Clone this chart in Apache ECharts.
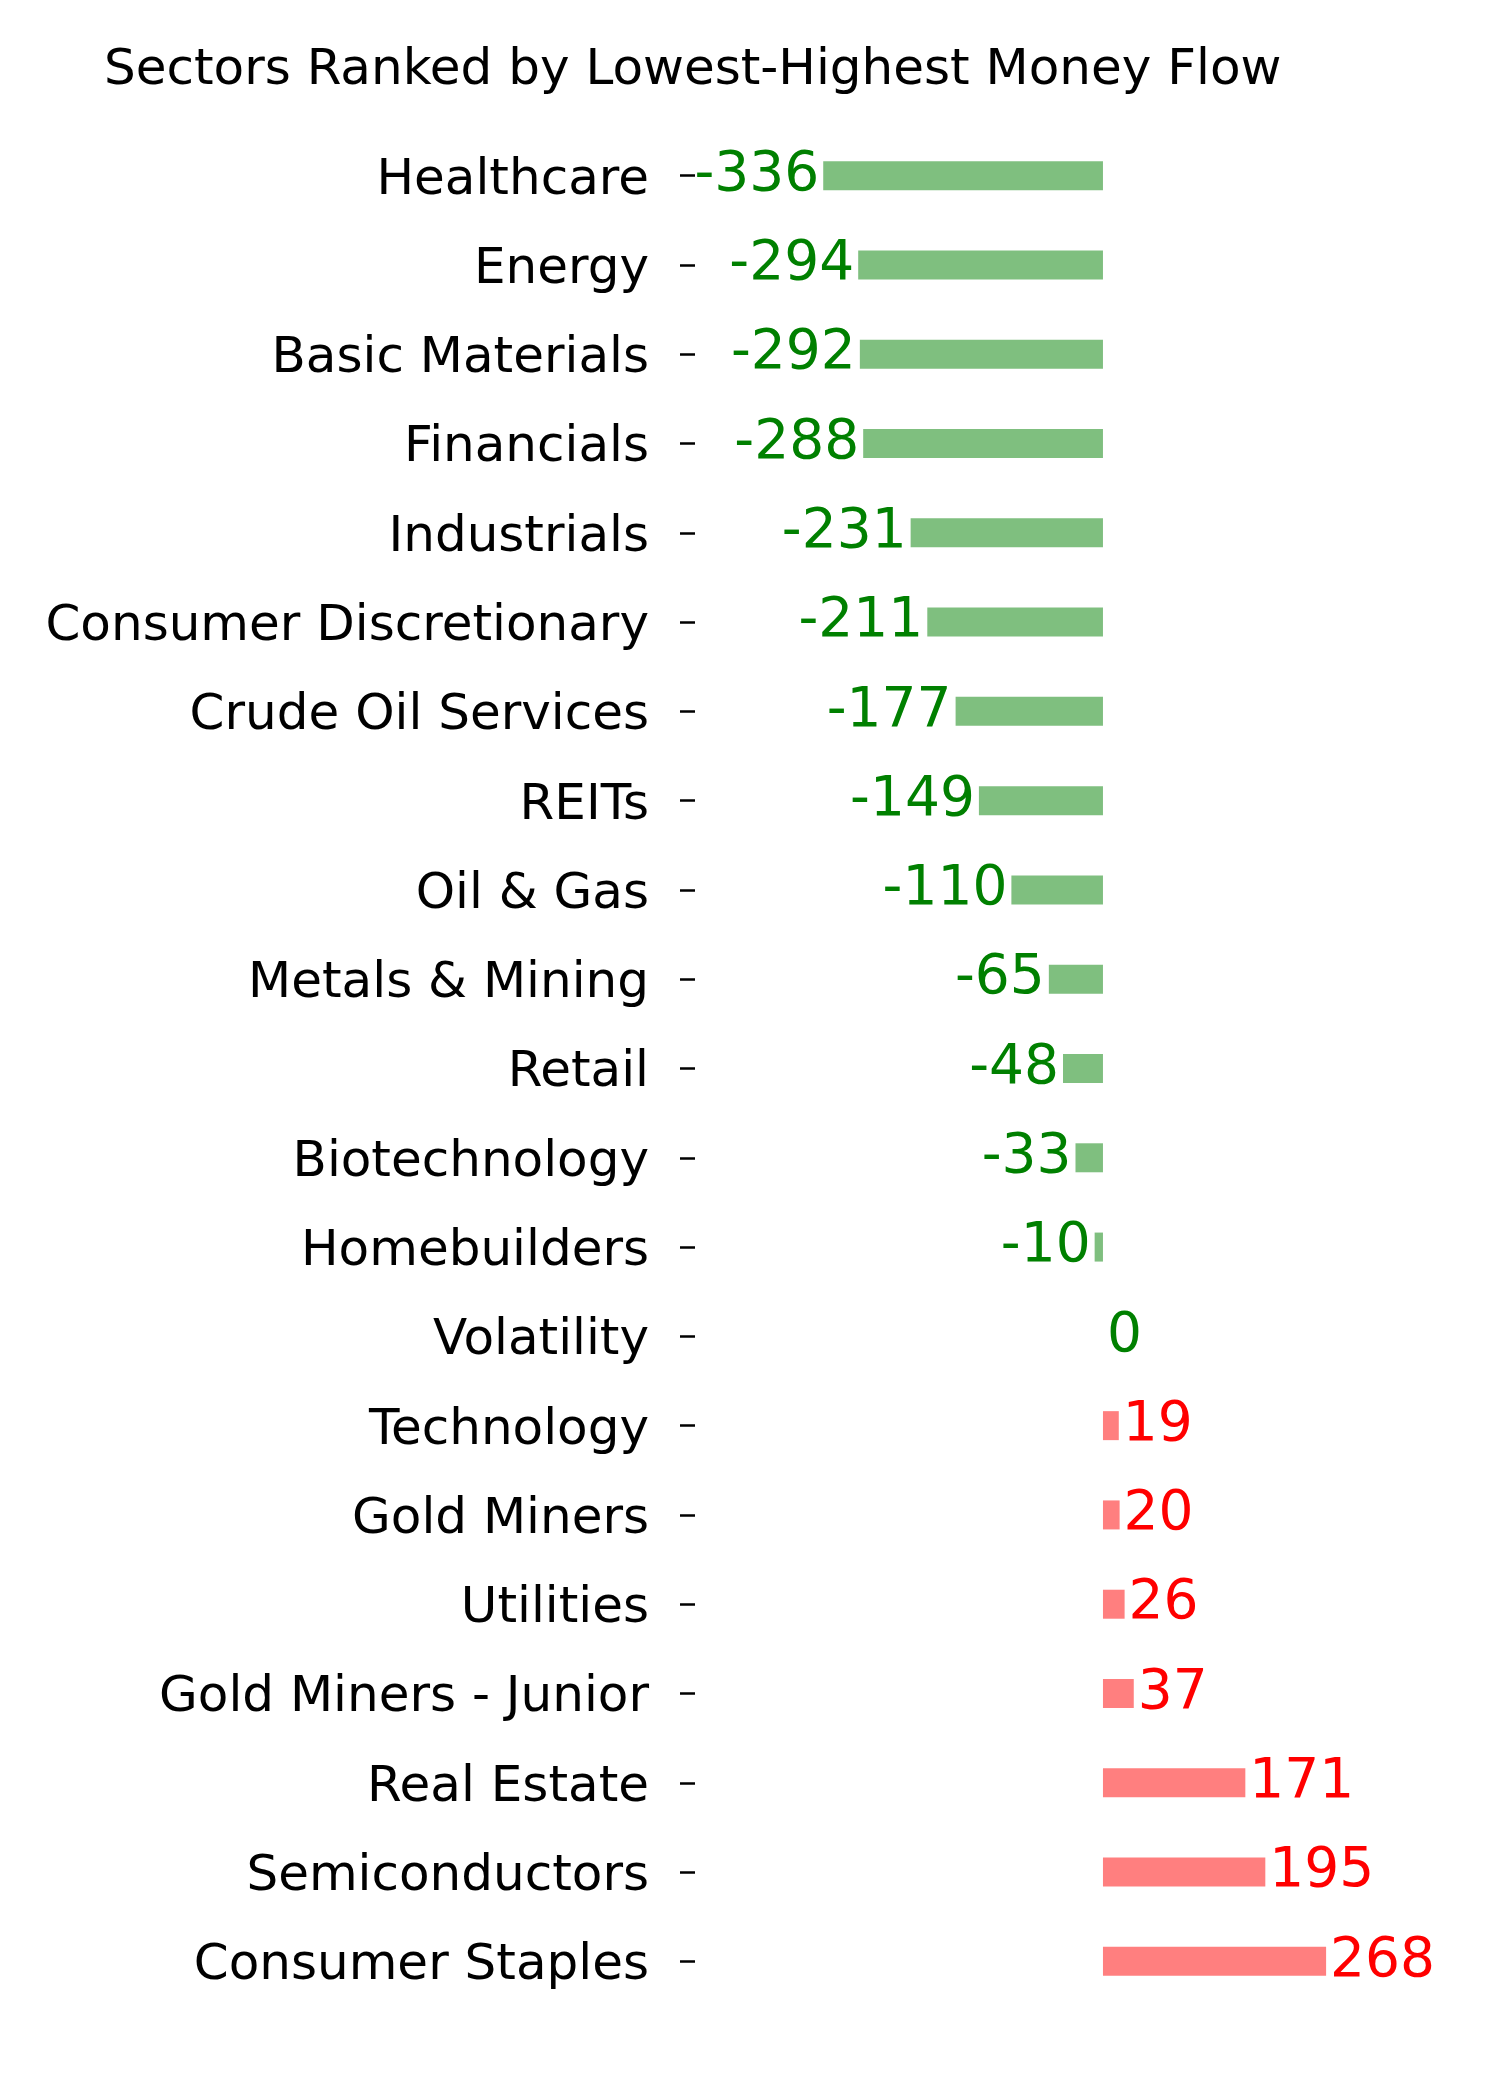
<!DOCTYPE html>
<html>
<head>
<meta charset="utf-8">
<script src="https://cdn.jsdelivr.net/npm/echarts@6/dist/echarts.min.js"></script>
<style>
    html, body { margin: 0; padding: 0; background: #ffffff; }
    #chart { width: 1500px; height: 2100px; }
</style>
</head>
<body>
<div id="chart"></div>
<script>
    // sectors, top to bottom
    const sectors = [
        'Healthcare', 'Energy', 'Basic Materials', 'Financials', 'Industrials',
        'Consumer Discretionary', 'Crude Oil Services', 'REITs', 'Oil & Gas',
        'Metals & Mining', 'Retail', 'Biotechnology', 'Homebuilders', 'Volatility',
        'Technology', 'Gold Miners', 'Utilities', 'Gold Miners - Junior',
        'Real Estate', 'Semiconductors', 'Consumer Staples'
    ];
    const moneyFlow = [
        -336, -294, -292, -288, -231,
        -211, -177, -149, -110,
        -65, -48, -33, -10, 0,
        19, 20, 26, 37,
        171, 195, 268
    ];

    const FONT = 'DejaVu Sans';

    const chart = echarts.init(document.getElementById('chart'));

    const barData = moneyFlow.map(function (v) {
        const neg = v <= 0;
        return {
            value: v,
            itemStyle: { color: neg ? 'rgba(0,128,0,0.5)' : 'rgba(255,0,0,0.5)' },
            label: {
                position: v < 0 ? 'left' : 'right',
                color: neg ? '#008000' : '#ff0000'
            }
        };
    });

    chart.setOption({
        backgroundColor: '#ffffff',
        animation: false,
        title: {
            text: 'Sectors Ranked by Lowest-Highest Money Flow',
            left: 99,
            top: 41,
            textStyle: {
                fontFamily: FONT,
                fontSize: 50,
                fontWeight: 'normal',
                color: '#000000'
            }
        },
        grid: {
            left: 695,
            top: 131,
            width: 741,
            height: 1875
        },
        xAxis: {
            type: 'value',
            min: -490,
            max: 400,
            show: false
        },
        yAxis: {
            type: 'category',
            inverse: true,
            data: sectors,
            axisLine: { show: false, onZero: false },
            axisTick: {
                show: true,
                alignWithLabel: true,
                length: 15,
                lineStyle: { color: '#000000', width: 2.5 }
            },
            axisLabel: {
                margin: 46,
                verticalAlign: 'top',
                lineHeight: 10,
                fontFamily: FONT,
                fontSize: 50,
                color: '#000000'
            },
            splitLine: { show: false }
        },
        series: [
            {
                type: 'bar',
                data: barData,
                barWidth: 29,
                label: {
                    show: true,
                    distance: 4,
                    fontFamily: FONT,
                    fontSize: 55
                }
            }
        ]
    });
</script>
</body>
</html>
